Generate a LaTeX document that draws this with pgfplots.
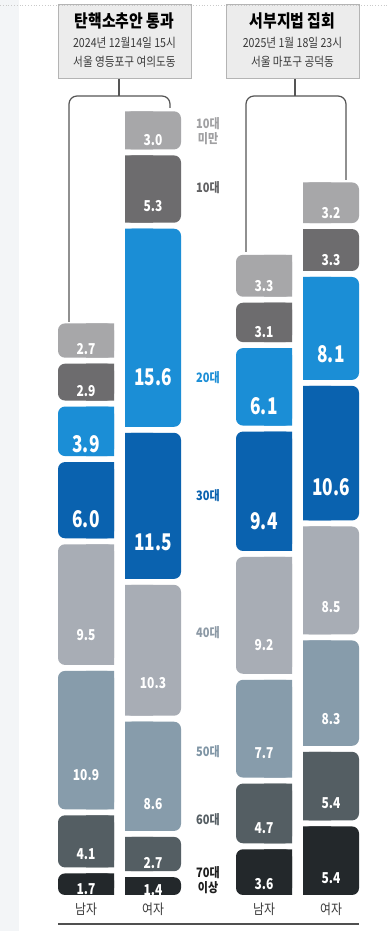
\documentclass[border=0pt]{standalone}
\usepackage{pgfplots}
\pgfplotsset{compat=1.18}
\usepackage{pgfplotstable}
\usepackage{fontspec}
\setmainfont{Noto Sans CJK KR}
\newfontfamily\kr{Noto Sans CJK KR}[FakeStretch=0.85]
\newfontfamily\num{Noto Sans CJK KR}[FakeStretch=0.8]
\newfontfamily\numL{Noto Sans CJK KR}[FakeStretch=0.75]

\definecolor{c0}{HTML}{A7A7A9}
\definecolor{c10}{HTML}{6D6C6E}
\definecolor{c20}{HTML}{1B8ED6}
\definecolor{c30}{HTML}{0A62AF}
\definecolor{c40}{HTML}{A8ADB5}
\definecolor{c50}{HTML}{879CAB}
\definecolor{c60}{HTML}{545E63}
\definecolor{c70}{HTML}{23282B}
\definecolor{l0}{HTML}{A0A0A2}
\definecolor{l10}{HTML}{606062}
\definecolor{l40}{HTML}{8C99A5}
\definecolor{l50}{HTML}{7F95A5}
\definecolor{l60}{HTML}{555E63}
\definecolor{l70}{HTML}{1E1E1E}
\definecolor{boxfill}{HTML}{ECECEC}
\definecolor{boxline}{HTML}{B4B4B4}
\definecolor{brk}{HTML}{555555}
\definecolor{txt}{HTML}{3A3A3A}
\definecolor{strip}{HTML}{F3F5F7}
\definecolor{baseln}{HTML}{505050}

\pgfplotstableread{
x   s    g      a70  a60  a50  a40  a30  a20  a10  a0
86  14   0.4724 1.7  4.1  10.9 9.5  6.0  3.9  2.9  2.7
153 -14  0.4724 1.4  2.7  8.6  10.3 11.5 15.6 5.3  3.0
264 14   0.4724 3.6  4.7  7.7  9.2  9.4  6.1  3.1  3.3
331 -14  0.4724 5.4  5.4  8.3  8.5  10.6 8.1  3.3  3.2
}\data

\newcommand\fnS{\num\bfseries\fontsize{15pt}{15pt}\selectfont}
\newcommand\fnL{\numL\bfseries\fontsize{23pt}{23pt}\selectfont}

% rounded full-width blocks
\newcommand\blkA[2]{\addplot[fill=#2, draw=none, rounded corners=7pt] table[x=x, y=#1]{\data};}
\newcommand\gapA{\addplot[draw=none, fill=none] table[x=x, y=g]{\data};}
% sharp half-width blocks on the flat side
\newcommand\blkB[2]{\addplot[fill=#2, draw=none] table[x expr=\thisrow{x}+\thisrow{s}, y=#1]{\data};}
\newcommand\gapB{\addplot[draw=none, fill=none] table[x expr=\thisrow{x}+\thisrow{s}, y=g]{\data};}
% value labels at the middle of each block
\newcommand\lab[2]{\addplot[draw=none, fill=none, point meta=explicit symbolic,
   nodes near coords={\pgfplotspointmeta},
   every node near coord/.append style={anchor=center, text=white, font=#2, inner sep=0pt}]
   table[x=x, y expr=\thisrow{#1}/2, meta=#1]{\data};
  \addplot[draw=none, fill=none] table[x=x, y expr=\thisrow{#1}/2+\thisrow{g}]{\data};}

\pgfplotsset{base/.style={at={(0pt,0pt)}, anchor=south west, scale only axis,
  width=388pt, height=931pt, xmin=0, xmax=388, ymin=-2.8346, ymax=70.4724,
  hide axis, ybar stacked, clip=false}}

\begin{document}
\begin{tikzpicture}
\useasboundingbox (0,0) rectangle (388pt,931pt);
\fill[white] (0,0) rectangle (388pt,931pt);
\fill[strip] (0,0) rectangle (19pt,931pt);
\begin{axis}[base, bar width=28pt]
\blkB{a70}{c70}\gapB
\blkB{a60}{c60}\gapB
\blkB{a50}{c50}\gapB
\blkB{a40}{c40}\gapB
\blkB{a30}{c30}\gapB
\blkB{a20}{c20}\gapB
\blkB{a10}{c10}\gapB
\blkB{a0}{c0}
\end{axis}
\begin{axis}[base, bar width=56pt]
\blkA{a70}{c70}\gapA
\blkA{a60}{c60}\gapA
\blkA{a50}{c50}\gapA
\blkA{a40}{c40}\gapA
\blkA{a30}{c30}\gapA
\blkA{a20}{c20}\gapA
\blkA{a10}{c10}\gapA
\blkA{a0}{c0}
\end{axis}
\begin{axis}[base, bar width=56pt]
\lab{a70}{\fnS}
\lab{a60}{\fnS}
\lab{a50}{\fnS}
\lab{a40}{\fnS}
\lab{a30}{\fnL}
\lab{a20}{\fnL}
\lab{a10}{\fnS}
\lab{a0}{\fnS}
\end{axis}

% title boxes
\draw[boxline, fill=boxfill, line width=1pt] (58pt,852pt) rectangle (191pt,926pt);
\draw[boxline, fill=boxfill, line width=1pt] (226pt,852pt) rectangle (359pt,926pt);
\draw[boxline!70, line width=0.8pt, dotted] (0,926pt) -- (388pt,926pt);
\tikzset{ttl/.style={font=\kr\bfseries\fontsize{17.5pt}{17.5pt}\selectfont, text=black, inner sep=0pt},
         sub/.style={font=\kr\fontsize{12.5pt}{12.5pt}\selectfont, text=txt, inner sep=0pt}}
\node[ttl] at (124.5pt,910pt) {탄핵소추안 통과};
\node[sub] at (124.5pt,888pt) {2024년 12월14일 15시};
\node[sub] at (124.5pt,869pt) {서울 영등포구 여의도동};
\node[ttl] at (292.5pt,910pt) {서부지법 집회};
\node[sub] at (292.5pt,888pt) {2025년 1월 18일 23시};
\node[sub] at (292.5pt,869pt) {서울 마포구 공덕동};

% brackets
\draw[brk, line width=1.2pt] (119pt,852pt) -- (119pt,835pt);
\draw[brk, line width=1.2pt, rounded corners=8pt] (69pt,609pt) -- (69pt,835pt) -- (170pt,835pt) -- (170pt,823pt);
\draw[brk, line width=1.2pt] (295pt,852pt) -- (295pt,835pt);
\draw[brk, line width=1.2pt, rounded corners=8pt] (246pt,679pt) -- (246pt,835pt) -- (346pt,835pt) -- (346pt,751pt);

% category labels
\tikzset{cat/.style={font=\kr\bfseries\fontsize{13pt}{15pt}\selectfont, align=center, inner sep=0pt}}
\node[cat, text=l0] at (208pt,800pt) {10대\\미만};
\node[cat, text=l10] at (208pt,743pt) {10대};
\node[cat, text=c20] at (208pt,553pt) {20대};
\node[cat, text=c30] at (208pt,435pt) {30대};
\node[cat, text=l40] at (208pt,298pt) {40대};
\node[cat, text=l50] at (208pt,179pt) {50대};
\node[cat, text=l60] at (208pt,111pt) {60대};
\node[cat, text=l70] at (208pt,51pt) {70대\\이상};

% bottom labels
\tikzset{sex/.style={font=\kr\fontsize{14pt}{14pt}\selectfont, text=txt}}
\node[sex] at (86pt,22pt) {남자};
\node[sex] at (153pt,22pt) {여자};
\node[sex] at (264pt,22pt) {남자};
\node[sex] at (331pt,22pt) {여자};
\draw[baseln, line width=2pt] (58pt,7pt) -- (359pt,7pt);
\end{tikzpicture}
\end{document}
